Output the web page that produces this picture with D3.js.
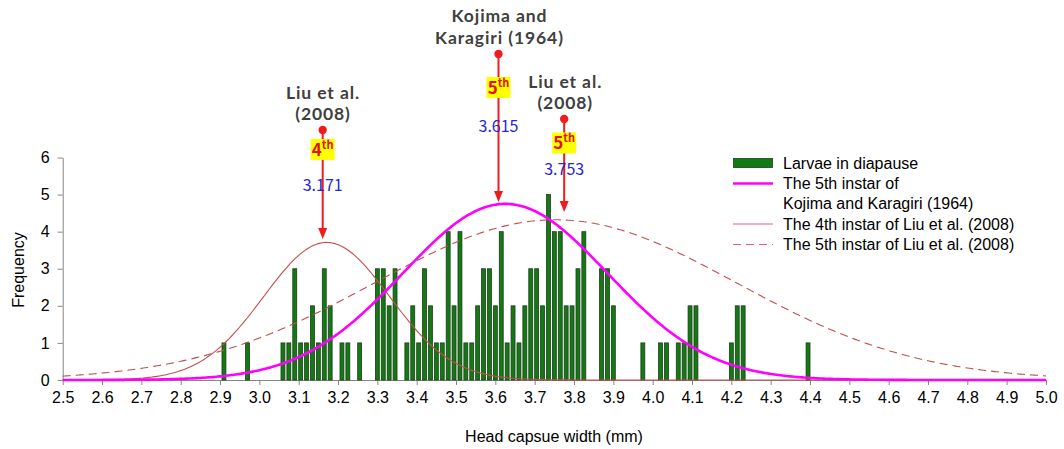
<!DOCTYPE html>
<html><head><meta charset="utf-8">
<script src="https://cdn.jsdelivr.net/npm/d3@7/dist/d3.min.js"></script>
<style>body{margin:0;background:#fff} svg{display:block}</style>
</head><body><svg id="c" width="1064" height="449"></svg>
<script>
// ---------- data ----------
const barWidths = [2.910,2.970,3.060,3.075,3.090,3.105,3.120,3.135,3.150,3.165,3.180,3.210,3.225,3.255,
  3.300,3.315,3.330,3.345,3.375,3.390,3.405,3.420,3.435,3.450,3.465,3.480,3.495,3.510,3.525,3.540,
  3.555,3.570,3.585,3.600,3.615,3.630,3.645,3.660,3.675,3.690,3.705,3.720,3.735,3.750,3.765,3.780,
  3.795,3.810,3.825,3.870,3.885,3.900,3.975,4.020,4.035,4.065,4.080,4.095,4.110,4.200,4.215,4.230,4.395];
const barCounts = [1,1,1,1,3,1,1,2,1,3,2,1,1,1,
  3,3,2,3,1,2,1,3,2,1,1,4,2,4,1,1,
  2,3,3,2,4,1,2,1,2,3,3,2,5,4,4,2,
  2,3,4,3,3,2,1,1,1,1,1,2,2,1,2,2,1];
const xTickValues = [2.5,2.6,2.7,2.8,2.9,3.0,3.1,3.2,3.3,3.4,3.5,3.6,3.7,3.8,3.9,4.0,4.1,4.2,4.3,4.4,4.5,4.6,4.7,4.8,4.9,5.0];
const yTickValues = [0,1,2,3,4,5,6];
// normal curves: 5th instar Kojima & Karagiri, 4th instar Liu, 5th instar Liu
const curveMeans = [3.625, 3.171, 3.753];
const curveSDs   = [0.26, 0.16, 0.46];
const curvePeaks = [4.75, 3.71, 4.32];
const legendLabels = [["Larvae in diapause"],["The 5th instar of","Kojima and Karagiri (1964)"],
  ["The 4th instar of Liu et al. (2008)"],["The 5th instar of Liu et al. (2008)"]];
const noteTitles = [["Liu et al.","(2008)"],["Kojima and","Karagiri (1964)"],["Liu et al.","(2008)"]];
const noteInstar = ["4","5","5"];
const noteValues = ["3.171","3.615","3.753"];
const noteAt = [3.161, 3.608, 3.775];

// ---------- layout ----------
const svg = d3.select('#c');
const x = d3.scaleLinear().domain([2.5,5.0]).range([62.7,1046]);
const y = d3.scaleLinear().domain([0,6]).range([380,157.5]);
const AX = '#868686';
const sans = "'Liberation Sans', Arial, sans-serif";
const kor = "'Noto Sans CJK KR', 'Noto Sans', sans-serif";
const ttl = "Lato, 'Liberation Sans', sans-serif";

// axes
const gx = svg.append('g').attr('transform',`translate(0,${y(0)})`)
  .call(d3.axisBottom(x).tickValues(xTickValues).tickFormat(d3.format('.1f')).tickSizeInner(5).tickSizeOuter(0).tickPadding(7));
const gy = svg.append('g').attr('transform',`translate(${x(2.5)},0)`)
  .call(d3.axisLeft(y).tickValues(yTickValues).tickFormat(d3.format('d')).tickSizeInner(5).tickSizeOuter(0).tickPadding(8));
[gx,gy].forEach(g=>{
  g.selectAll('path,line').attr('stroke',AX).attr('stroke-width',1);
  g.selectAll('text').attr('fill','#000').style('font-family',sans).style('font-size','16px');
});

svg.append('text').attr('x',554).attr('y',436).attr('text-anchor','middle').attr('dominant-baseline','central')
  .style('font-family',sans).style('font-size','16px').text('Head capsue width (mm)');
svg.append('text').attr('transform','translate(18,270) rotate(-90)').attr('text-anchor','middle').attr('dominant-baseline','central')
  .style('font-family',sans).style('font-size','16px').text('Frequency');

// bars
const GREEN = '#137a13';
const bw = x(2.51)-x(2.5);
svg.append('g').selectAll('rect').data(barWidths.map((w,i)=>({w,c:barCounts[i]}))).join('rect')
  .attr('x',d=>x(d.w)-bw/2).attr('width',bw).attr('y',d=>y(d.c)).attr('height',d=>y(0)-y(d.c))
  .attr('fill',GREEN).attr('stroke','#1d3b1d').attr('stroke-width',0.8);

// curves
const samples = d3.range(0,501).map(i=>2.5+i*0.005);
const curveStyles = [
  {stroke:'#ff00ff', width:2.6, dash:null},
  {stroke:'#c0504d', width:1.1, dash:null},
  {stroke:'#c0504d', width:1.1, dash:'8,5'}
];
const line = d3.line().x(d=>x(d[0])).y(d=>y(d[1]));
[1,2,0].forEach(k=>{
  const pts = samples.map(v=>[v, curvePeaks[k]*Math.exp(-Math.pow(v-curveMeans[k],2)/(2*curveSDs[k]*curveSDs[k]))]);
  svg.append('path').attr('d',line(pts)).attr('fill','none')
    .attr('stroke',curveStyles[k].stroke).attr('stroke-width',curveStyles[k].width)
    .attr('stroke-dasharray',curveStyles[k].dash);
});

// legend
const lg = svg.append('g');
lg.append('rect').attr('x',733.5).attr('y',158.5).attr('width',39).attr('height',9).attr('fill',GREEN).attr('stroke','#1d3b1d').attr('stroke-width',0.8);
const legY = [163, 183.5, 224, 244.5];
[1,2,3].forEach(i=>{
  const s = curveStyles[i-1];
  lg.append('line').attr('x1',733).attr('x2',773).attr('y1',legY[i]).attr('y2',legY[i])
    .attr('stroke',i===1?'#ff00ff':'#e0607a').attr('stroke-width',i===1?2.6:1.2).attr('stroke-dasharray',s.dash);
});
legendLabels.forEach((lines,i)=>{
  lines.forEach((t,j)=>{
    lg.append('text').attr('x',783).attr('y',legY[i]+j*19.5).attr('dominant-baseline','central')
      .style('font-family',sans).style('font-size','16px').attr('fill','#000').text(t);
  });
});

// annotations
const RED = '#ee1c1c';
const noteLayout = [
  {t:[92,113.5], dot:130, box:149.5, num:184, tip:239},
  {t:[15,37],  dot:54,  box:87.5,  num:125, tip:202},
  {t:[81,102.5], dot:119, box:143,   num:167.5, tip:212}
];
noteAt.forEach((v,i)=>{
  const L = noteLayout[i], cx = x(v);
  const g = svg.append('g');
  g.append('line').attr('x1',cx).attr('x2',cx).attr('y1',L.dot).attr('y2',L.tip-8).attr('stroke',RED).attr('stroke-width',2);
  g.append('path').attr('d',`M${cx-4.5},${L.tip-11}L${cx+4.5},${L.tip-11}L${cx},${L.tip}Z`).attr('fill',RED);
  g.append('circle').attr('cx',cx).attr('cy',L.dot).attr('r',4.2).attr('fill',RED);
  g.append('rect').attr('x',cx-12).attr('y',L.box-10.5).attr('width',24).attr('height',21).attr('fill','#ffff00');
  const tx = g.append('text').attr('x',cx).attr('y',L.box+6).attr('text-anchor','middle')
    .style('font-family',kor).style('font-weight','bold').attr('fill','#e01010');
  tx.append('tspan').style('font-size','17px').text(noteInstar[i]);
  tx.append('tspan').style('font-size','11px').attr('dy',-7).text('th');
  g.append('text').attr('x',cx).attr('y',L.num).attr('text-anchor','middle').attr('dominant-baseline','central')
    .style('font-family',kor).style('font-size','16px').attr('fill','#2626d6').text(noteValues[i]);
  noteTitles[i].forEach((t,j)=>{
    g.append('text').attr('x',i===0?323:cx+1).attr('y',L.t[j]).attr('text-anchor','middle').attr('dominant-baseline','central')
      .style('font-family',ttl).style('font-weight','bold').style('font-size','17.5px').style('letter-spacing','0.9px')
      .attr('fill','#404040').text(t);
  });
});
</script></body></html>
